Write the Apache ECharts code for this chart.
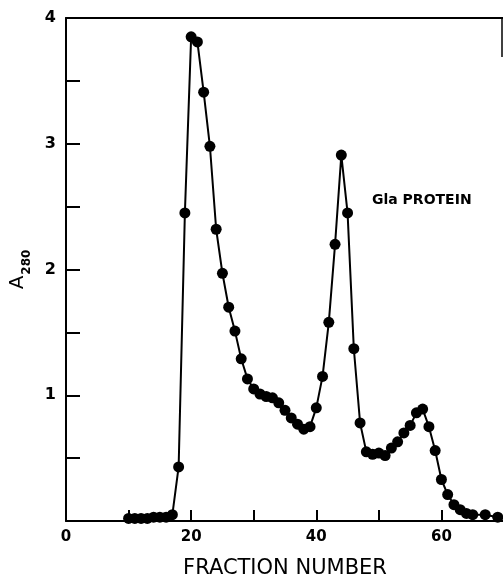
<!DOCTYPE html>
<html>
<head>
<meta charset="utf-8">
<script src="https://cdn.jsdelivr.net/npm/echarts@6/dist/echarts.min.js"></script>
<style>
  html, body { margin: 0; padding: 0; background: #fff; }
  #chart { width: 503px; height: 577px; }
</style>
</head>
<body>
<div id="chart"></div>
<script>
// Fraction numbers and A280 readings
const fractions = [10, 11, 12, 13, 14, 15, 16, 17, 18, 19,
  20, 21, 22, 23, 24, 25, 26, 27, 28, 29,
  30, 31, 32, 33, 34, 35, 36, 37, 38, 39,
  40, 41, 42, 43, 44, 45, 46, 47, 48, 49,
  50, 51, 52, 53, 54, 55, 56, 57, 58, 59,
  60, 61, 62, 63, 64, 65, 67, 69];
const a280 = [0.02, 0.02, 0.02, 0.02, 0.03, 0.03, 0.03, 0.05, 0.43, 2.45,
  3.85, 3.81, 3.41, 2.98, 2.32, 1.97, 1.70, 1.51, 1.29, 1.13,
  1.05, 1.01, 0.99, 0.98, 0.94, 0.88, 0.82, 0.77, 0.73, 0.75,
  0.90, 1.15, 1.58, 2.20, 2.91, 2.45, 1.37, 0.78, 0.55, 0.53,
  0.54, 0.52, 0.58, 0.63, 0.70, 0.76, 0.86, 0.89, 0.75, 0.56,
  0.33, 0.21, 0.13, 0.09, 0.06, 0.05, 0.05, 0.03];

const xLabels = [0, 20, 40, 60];
const yLabels = [1, 2, 3, 4];

const chart = echarts.init(document.getElementById('chart'), null, { renderer: 'canvas' });

const ink = '#000';
const font = '"DejaVu Sans", "Liberation Sans", sans-serif';

const option = {
  animation: false,
  backgroundColor: '#fff',
  grid: { left: 66, top: 18, width: 438, height: 503, outerBoundsMode: 'none', containLabel: false },
  xAxis: [{
    type: 'value',
    min: 0,
    max: 70,
    interval: 10,
    name: 'FRACTION NUMBER',
    nameLocation: 'middle',
    nameGap: 37,
    nameTextStyle: { color: ink, fontFamily: font, fontSize: 21, fontWeight: 'normal' },
    axisLine: { lineStyle: { color: ink, width: 2 } },
    axisTick: { inside: true, length: 11, lineStyle: { color: ink, width: 2 } },
    axisLabel: {
      color: ink, fontFamily: font, fontSize: 15, fontWeight: 'bold', margin: 9,
      formatter: (v) => xLabels.includes(v) ? String(v) : ''
    },
    splitLine: { show: false }
  }, {
    type: 'value',
    position: 'top',
    min: 0,
    max: 70,
    axisLine: { lineStyle: { color: ink, width: 2 } },
    axisTick: { show: false },
    axisLabel: { show: false },
    splitLine: { show: false }
  }],
  yAxis: {
    type: 'value',
    min: 0,
    max: 4,
    interval: 0.5,
    name: '{a|A}{s|280}',
    nameLocation: 'middle',
    nameGap: 38,
    nameTextStyle: {
      rich: {
        a: { fontFamily: font, fontSize: 20, color: ink, verticalAlign: 'bottom' },
        s: { fontFamily: font, fontSize: 12, color: ink, fontWeight: 'bold', padding: [0, 0, -5, 1], verticalAlign: 'bottom' }
      }
    },
    axisLine: { show: true, lineStyle: { color: ink, width: 2 } },
    axisTick: { show: true, inside: true, length: 14, lineStyle: { color: ink, width: 2 } },
    axisLabel: {
      color: ink, fontFamily: font, fontSize: 16, fontWeight: 'bold', margin: 10,
      formatter: (v) => yLabels.includes(v) ? String(v) : ''
    },
    splitLine: { show: false }
  },
  graphic: [{
    type: 'text',
    left: 372,
    top: 193,
    style: { text: 'Gla PROTEIN', fill: ink, font: 'bold 14px ' + font }
  }, {
    type: 'line',
    shape: { x1: 502, y1: 18, x2: 502, y2: 57 },
    style: { stroke: ink, lineWidth: 1.5 }
  }],
  series: [{
    type: 'line',
    data: fractions.map((f, i) => [f, a280[i]]),
    symbol: 'circle',
    symbolSize: 11,
    showSymbol: true,
    lineStyle: { color: ink, width: 2 },
    itemStyle: { color: ink, borderWidth: 0 },
    clip: false
  }]
};

chart.setOption(option);
</script>
</body>
</html>
